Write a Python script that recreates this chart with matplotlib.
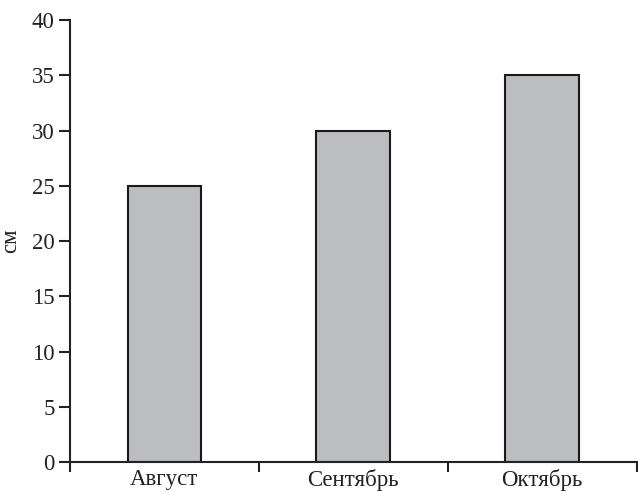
import matplotlib.pyplot as plt
import numpy as np

months = ["Август", "Сентябрь", "Октябрь"]
heights = [25, 30, 35]
y_ticks = [0, 5, 10, 15, 20, 25, 30, 35, 40]

plt.rcParams["font.family"] = ["Liberation Serif", "DejaVu Serif"]

fig = plt.figure(figsize=(6.38, 4.92), dpi=100)
ax = fig.add_axes([0.1097, 0.061, 0.888, 0.898])

x = np.arange(len(months))
ax.bar(x, heights, width=0.39, color="#bcbdc1", edgecolor="#1a1a1a", linewidth=1.5)

ax.set_xlim(-0.5, len(months) - 0.5)
ax.set_ylim(0, 40)
ax.set_yticks(y_ticks)
ax.set_xticks(x)
ax.set_xticklabels(months)
ax.set_xticks(np.arange(-0.5, len(months)), minor=True)
ax.tick_params(axis="x", which="major", length=0, labelsize=16.5, pad=5, colors="#222222")
ax.tick_params(axis="x", which="minor", length=7, width=1.5, direction="out", color="#222222")
ax.tick_params(axis="y", length=8, width=1.5, direction="out", labelsize=16.5, pad=3, colors="#222222")

for side in ["top", "right"]:
    ax.spines[side].set_visible(False)
for side in ["left", "bottom"]:
    ax.spines[side].set_linewidth(1.5)
    ax.spines[side].set_color("#222222")

ax.set_ylabel("см", fontsize=16.5, color="#222222", labelpad=8)

fig.savefig("out.png", dpi=100)
